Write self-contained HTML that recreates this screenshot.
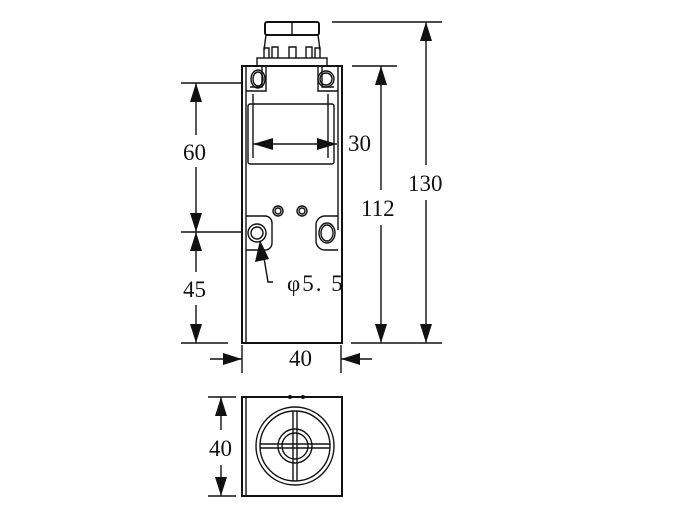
<!DOCTYPE html>
<html><head><style>
html,body{margin:0;padding:0;background:#fff;width:700px;height:514px;overflow:hidden}
text{font-family:"Liberation Serif",serif;font-size:23px;fill:#111}
</style></head><body>
<svg width="700" height="514" viewBox="0 0 700 514" xmlns="http://www.w3.org/2000/svg">
<g stroke="#111" fill="none" stroke-width="1.4">
<rect x="265" y="22" width="54" height="13" rx="2" stroke-width="2"/>
<line x1="292" y1="22" x2="292" y2="35"/>
<line x1="266" y1="35" x2="264" y2="50"/><line x1="318" y1="35" x2="320" y2="50"/>
<path d="M264 58 V48 h5 v10 M272 58 V47 h6 v11 M289 58 V47 h7 v11 M306 58 V47 h6 v11 M315 58 V48 h5 v10"/>
<rect x="257" y="58" width="70" height="8"/>
<rect x="242" y="66" width="100" height="277" stroke-width="2"/>
<line x1="246" y1="67" x2="246" y2="342"/>
<line x1="338" y1="67" x2="338" y2="230"/>
<path d="M246 91 h20 v-25"/><path d="M250 87 h12 v-21"/>
<path d="M338 91 h-20 v-25"/><path d="M334 87 h-12 v-21"/>
<ellipse cx="258" cy="79" rx="7" ry="9"/><ellipse cx="258" cy="79" rx="5" ry="7"/>
<circle cx="326" cy="79" r="8"/><circle cx="326" cy="79" r="6"/>
<rect x="248" y="104" width="86" height="60" rx="2"/>
<line x1="253" y1="94" x2="253" y2="158"/><line x1="328" y1="94" x2="328" y2="158"/>
<circle cx="278" cy="211" r="5"/><circle cx="278" cy="211" r="3"/>
<circle cx="302" cy="211" r="5"/><circle cx="302" cy="211" r="3"/>
<path d="M246 216 h19 a7 7 0 0 1 7 7 v20 a7 7 0 0 1 -7 7 h-19"/>
<circle cx="257" cy="233" r="9"/><circle cx="257" cy="233" r="6"/>
<path d="M338 216 h-13 a9 9 0 0 0 -9 9 v16 a9 9 0 0 0 9 9 h13"/>
<ellipse cx="327" cy="233" rx="8" ry="10"/><ellipse cx="327" cy="233" rx="6" ry="8"/>
<polyline points="262,246 268,282 273,282"/>
<line x1="181" y1="83" x2="242" y2="83"/>
<line x1="181" y1="232" x2="242" y2="232"/>
<line x1="181" y1="343" x2="228" y2="343"/>
<line x1="196" y1="83" x2="196" y2="135"/><line x1="196" y1="167" x2="196" y2="232"/>
<line x1="196" y1="232" x2="196" y2="272"/><line x1="196" y1="305" x2="196" y2="343"/>
<line x1="352" y1="66" x2="397" y2="66"/>
<line x1="381" y1="66" x2="381" y2="190"/><line x1="381" y1="225" x2="381" y2="343"/>
<line x1="332" y1="22" x2="442" y2="22"/>
<line x1="426" y1="22" x2="426" y2="165"/><line x1="426" y1="200" x2="426" y2="343"/>
<line x1="351" y1="343" x2="442" y2="343"/>
<line x1="253" y1="144" x2="337" y2="144"/>
<line x1="210" y1="359" x2="242" y2="359"/><line x1="242" y1="345" x2="242" y2="373"/>
<line x1="341" y1="359" x2="372" y2="359"/><line x1="341" y1="345" x2="341" y2="373"/>
<rect x="242" y="397" width="100" height="99" stroke-width="2"/>
<line x1="246" y1="398" x2="246" y2="495"/>
<circle cx="295" cy="446" r="39"/><circle cx="295" cy="446" r="35"/>
<circle cx="295" cy="446" r="17"/><circle cx="295" cy="446" r="13"/>
<path d="M293 411 V481 M297 411 V481 M260 444 H330 M260 448 H330"/>
<line x1="208" y1="397" x2="236" y2="397"/><line x1="208" y1="496" x2="236" y2="496"/>
<line x1="221" y1="397" x2="221" y2="430"/><line x1="221" y1="465" x2="221" y2="496"/>
</g>
<g fill="#111">
<polygon points="196,83 190,102 202,102"/>
<polygon points="196,232 190,213 202,213"/>
<polygon points="196,232 190,251 202,251"/>
<polygon points="196,343 190,324 202,324"/>
<polygon points="381,66 375,85 387,85"/>
<polygon points="381,343 375,324 387,324"/>
<polygon points="426,22 420,41 432,41"/>
<polygon points="426,343 420,324 432,324"/>
<polygon points="253,144 273,138 273,150"/>
<polygon points="337,144 317,138 317,150"/>
<polygon points="242,359 223,353 223,365"/>
<polygon points="341,359 360,353 360,365"/>
<polygon points="221,397 215,416 227,416"/>
<polygon points="221,496 215,477 227,477"/>
<polygon points="260,240 255,262 269,259"/>
<circle cx="290" cy="397" r="2"/><circle cx="303" cy="397" r="2"/>
</g>
<text x="183" y="160">60</text>
<text x="183" y="297">45</text>
<text x="348" y="151">30</text>
<text x="361" y="216">112</text>
<text x="408" y="191">130</text>
<text x="289" y="366">40</text>
<text x="209" y="456">40</text>
<text x="287" y="291" letter-spacing="2">φ5. 5</text>
</svg>
</body></html>
